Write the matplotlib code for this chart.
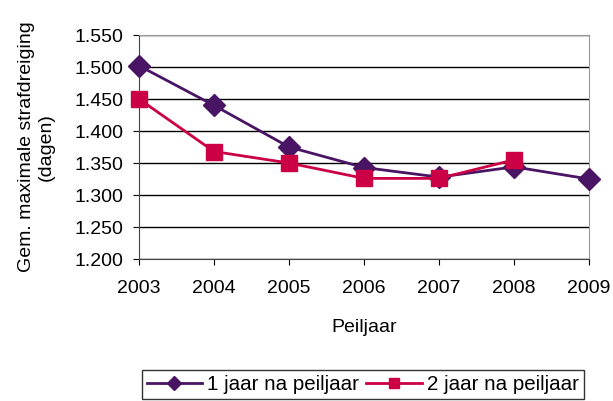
import matplotlib
matplotlib.use("Agg")
import matplotlib.pyplot as plt

plt.rcParams['font.family'] = ['Liberation Sans', 'DejaVu Sans']

years = ["2003", "2004", "2005", "2006", "2007", "2008", "2009"]
jaar1 = [1.502, 1.440, 1.375, 1.343, 1.328, 1.344, 1.325]
jaar2 = [1.450, 1.368, 1.350, 1.326, 1.326, 1.355]
yticks = [1.200, 1.250, 1.300, 1.350, 1.400, 1.450, 1.500, 1.550]
ytick_labels = ["1.200", "1.250", "1.300", "1.350", "1.400", "1.450", "1.500", "1.550"]

fs = 14
fig = plt.figure(figsize=(6.13, 4.01), dpi=100)
ax = fig.add_axes([0.2268, 0.354, 0.7342, 0.5587])

x1 = list(range(len(jaar1)))
x2 = list(range(len(jaar2)))
ax.plot(x1, jaar1, color="#4A1464", lw=2, marker="D", ms=11, label="1 jaar na peiljaar",
        zorder=3, clip_on=False)
ax.plot(x2, jaar2, color="#CC0044", lw=2, marker="s", ms=12, label="2 jaar na peiljaar",
        zorder=4, clip_on=False)

ax.set_xlim(0, len(years) - 1)
ax.set_ylim(1.200, 1.550)
ax.set_xticks(range(len(years)))
ax.set_xticklabels(years)
ax.set_yticks(yticks)
ax.set_yticklabels(ytick_labels)
ax.grid(axis='y', color='black', lw=1)
ax.set_axisbelow(True)
ax.tick_params(axis='both', labelsize=fs, direction='out', color='black')
ax.tick_params(axis='x', length=4, pad=11)
ax.tick_params(axis='y', length=4.5, pad=7)
for s in ['top', 'right']:
    ax.spines[s].set_color('#999999')
for s in ['left', 'bottom']:
    ax.spines[s].set_color('#444444')

ax.set_xlabel("Peiljaar", fontsize=fs, labelpad=16)
ax.set_ylabel("Gem. maximale strafdreiging\n(dagen)", fontsize=fs, labelpad=14)

leg = fig.legend(loc='lower center', bbox_to_anchor=(0.592, 0.0), ncol=2, fontsize=14.8,
                 frameon=True, fancybox=False, edgecolor='black', handlelength=2.7,
                 columnspacing=0.35, handletextpad=0.25, borderpad=0.25, markerscale=0.65,
                 borderaxespad=0.1)
leg.get_frame().set_linewidth(1)

fig.savefig("out.png", dpi=100)
